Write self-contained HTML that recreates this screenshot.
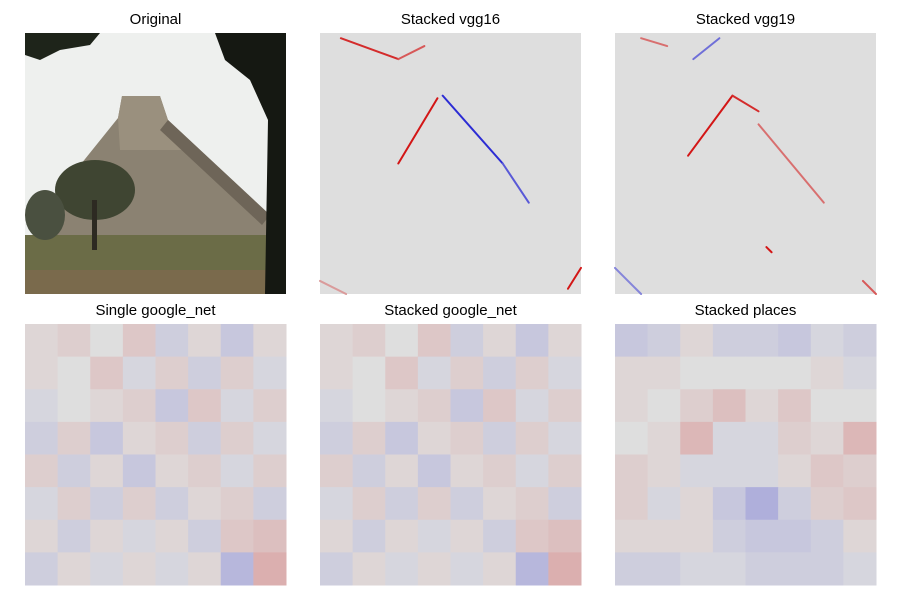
<!DOCTYPE html>
<html><head><meta charset="utf-8"><style>
body{margin:0;background:#fff;width:900px;height:600px;overflow:hidden;font-family:"Liberation Sans","DejaVu Sans",sans-serif}
</style></head><body>
<svg id="fig" width="900" height="600" viewBox="0 0 900 600" xmlns="http://www.w3.org/2000/svg">
<defs>
<clipPath id="c1"><rect x="25" y="33" width="261" height="261"/></clipPath>
</defs>
<g clip-path="url(#c1)">
<rect x="25" y="33" width="261" height="261" fill="#eef0ee"/>
<polygon points="40,215 118,118 122,96 160,96 168,120 270,215 270,240 40,240" fill="#8b8272"/>
<polygon points="118,118 122,96 160,96 168,120 200,150 120,150" fill="#9a907e"/>
<polygon points="168,120 270,215 262,225 160,130" fill="#6e6558"/>
<rect x="25" y="235" width="261" height="59" fill="#6b6c47"/>
<rect x="25" y="270" width="261" height="24" fill="#7a6a4c"/>
<ellipse cx="95" cy="190" rx="40" ry="30" fill="#3f4532"/>
<rect x="92" y="200" width="5" height="50" fill="#2d2a22"/>
<ellipse cx="45" cy="215" rx="20" ry="25" fill="#4a5040"/>
<path d="M25,33 L100,33 L90,45 L60,50 L40,60 L25,55Z" fill="#1e241a"/>
<path d="M215,33 L286,33 L286,294 L265,294 L268,120 L250,80 L225,60Z" fill="#151812"/>
</g>
<g id="maps"></g>
<g font-size="15" fill="#000" text-anchor="middle">
<text x="155.5" y="24">Original</text>
<text x="450.5" y="24">Stacked vgg16</text>
<text x="745.5" y="24">Stacked vgg19</text>
<text x="155.5" y="315">Single google_net</text>
<text x="450.5" y="315">Stacked google_net</text>
<text x="745.5" y="315">Stacked places</text>
</g>
</svg>
<script>
const NS="http://www.w3.org/2000/svg";
const vgg16Strokes=[[0.08,0.02,0.3,0.1,0.8],[0.3,0.1,0.4,0.05,0.6],[0.3,0.5,0.45,0.25,0.9],[0.47,0.24,0.7,0.5,-0.8],[0.7,0.5,0.8,0.65,-0.6],[0.95,0.98,1,0.9,0.9],[0.0,0.95,0.1,1,0.3]];
const vgg19Strokes=[[0.1,0.02,0.2,0.05,0.5],[0.3,0.1,0.4,0.02,-0.5],[0.28,0.47,0.45,0.24,0.9],[0.45,0.24,0.55,0.3,0.8],[0.55,0.35,0.8,0.65,0.5],[0.58,0.82,0.6,0.84,0.9],[0.0,0.9,0.1,1,-0.4],[0.95,0.95,1,1,0.6]];
const googleGrid=[
[0.1,0.2,0.0,0.3,-0.2,0.1,-0.3,0.1],
[0.1,0.0,0.3,-0.1,0.2,-0.2,0.2,-0.1],
[-0.1,0.0,0.1,0.2,-0.3,0.3,-0.1,0.2],
[-0.2,0.2,-0.3,0.1,0.2,-0.2,0.2,-0.1],
[0.2,-0.2,0.1,-0.3,0.1,0.2,-0.1,0.2],
[-0.1,0.2,-0.2,0.2,-0.2,0.1,0.2,-0.2],
[0.1,-0.2,0.1,-0.1,0.1,-0.2,0.3,0.4],
[-0.2,0.1,-0.1,0.1,-0.1,0.1,-0.5,0.6]];
const placesGrid=[
[-0.3,-0.2,0.1,-0.2,-0.2,-0.3,-0.1,-0.2],
[0.1,0.1,0.0,0.0,0.0,0.0,0.1,-0.1],
[0.1,0.0,0.2,0.4,0.1,0.3,0.0,0.0],
[0.0,0.1,0.5,-0.1,-0.1,0.2,0.1,0.5],
[0.2,0.1,-0.1,-0.1,-0.1,0.1,0.3,0.2],
[0.2,-0.1,0.1,-0.3,-0.6,-0.2,0.2,0.3],
[0.1,0.1,0.1,-0.2,-0.3,-0.3,-0.2,0.1],
[-0.2,-0.2,-0.1,-0.1,-0.2,-0.2,-0.2,-0.1]];
const panels=[
 {name:"stacked-vgg16",x:320,y:33,strokes:vgg16Strokes},
 {name:"stacked-vgg19",x:615,y:33,strokes:vgg19Strokes},
 {name:"single-google-net",x:25,y:324,grid:googleGrid},
 {name:"stacked-google-net",x:320,y:324,grid:googleGrid},
 {name:"stacked-places",x:615,y:324,grid:placesGrid}];
const S=261;
function col(v){const b=[222,222,222];const t=Math.min(1,Math.abs(v));const e=v>0?[210,0,0]:[0,0,210];
return "rgb("+b.map((c,i)=>Math.round(c+(e[i]-c)*t)).join(",")+")";}
const g=document.getElementById("maps");
panels.forEach(p=>{
 const pg=document.createElementNS(NS,"g");
 
 
 const bg=document.createElementNS(NS,"rect");
 bg.setAttribute("x",p.x);bg.setAttribute("y",p.y);bg.setAttribute("width",S);bg.setAttribute("height",S);bg.setAttribute("fill","#dedede");
 pg.appendChild(bg);
 if(p.grid){const n=p.grid.length;const cs=S/n;
  p.grid.forEach((row,r)=>row.forEach((v,c)=>{
   const rc=document.createElementNS(NS,"rect");
   
   
   rc.setAttribute("x",p.x+c*cs);rc.setAttribute("y",p.y+r*cs);rc.setAttribute("width",cs+0.5);rc.setAttribute("height",cs+0.5);rc.setAttribute("fill",col(v*0.35));
   pg.appendChild(rc);}));}
 if(p.strokes){p.strokes.forEach(s=>{
   const l=document.createElementNS(NS,"line");
   
   
   l.setAttribute("x1",p.x+s[0]*S);l.setAttribute("y1",p.y+s[1]*S);l.setAttribute("x2",p.x+s[2]*S);l.setAttribute("y2",p.y+s[3]*S);
   l.setAttribute("stroke",col(s[4]));l.setAttribute("stroke-width",2);l.setAttribute("stroke-linecap","round");
   pg.appendChild(l);});}
 g.appendChild(pg);
});
</script>
</body></html>
